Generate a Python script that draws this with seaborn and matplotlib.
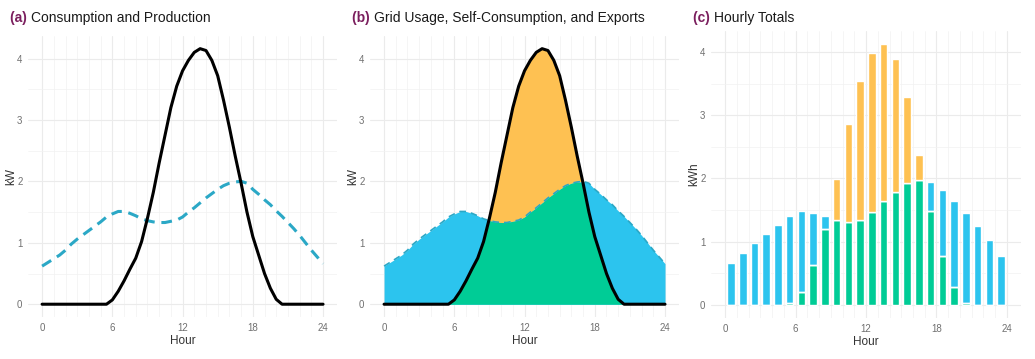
import numpy as np
import pandas as pd
import matplotlib
matplotlib.use("Agg")
import matplotlib.pyplot as plt
import seaborn as sns

# half-hourly profile (kW)
hours = [h / 2 for h in range(49)]
consumption = [0.62, 0.68, 0.74, 0.80, 0.88, 0.98, 1.06, 1.13, 1.20, 1.27,
               1.34, 1.42, 1.47, 1.51, 1.51, 1.48, 1.44, 1.39, 1.36, 1.34,
               1.33, 1.33, 1.35, 1.37, 1.42, 1.50, 1.57, 1.65, 1.73, 1.80,
               1.87, 1.93, 1.97, 1.99, 2.00, 1.97, 1.87, 1.79, 1.70, 1.62,
               1.52, 1.43, 1.33, 1.23, 1.12, 1.00, 0.88, 0.77, 0.66]
production = [0, 0, 0, 0, 0, 0, 0, 0, 0, 0,
              0, 0, 0.07, 0.21, 0.38, 0.57, 0.75, 1.02, 1.40, 1.82,
              2.30, 2.75, 3.20, 3.55, 3.80, 3.97, 4.10, 4.16, 4.13, 3.97,
              3.72, 3.32, 2.88, 2.41, 1.97, 1.50, 1.10, 0.80, 0.50, 0.26,
              0.08, 0, 0, 0, 0, 0, 0, 0, 0]

# hourly totals (kWh)
bar_hours = list(range(24))
cons_kwh = [0.66, 0.83, 0.98, 1.12, 1.27, 1.40, 1.48, 1.45, 1.40, 1.35, 1.31, 1.35,
            1.47, 1.65, 1.79, 1.93, 1.97, 1.94, 1.82, 1.64, 1.46, 1.25, 1.03, 0.78]
prod_kwh = [0, 0, 0, 0, 0, 0.03, 0.21, 0.64, 1.20, 1.99, 2.86, 3.54,
            3.98, 4.12, 3.89, 3.29, 2.37, 1.49, 0.78, 0.28, 0.03, 0, 0, 0]

titles = [("(a)", "Consumption and Production"),
          ("(b)", "Grid Usage, Self-Consumption, and Exports"),
          ("(c)", "Hourly Totals")]

BLUE = "#2CC4EE"
GREEN = "#00CC96"
ORANGE = "#FEC152"
DASH = "#2BA8C6"

sns.set_theme(style="white")
plt.rcParams["font.family"] = ["Liberation Sans", "DejaVu Sans"]

df = pd.DataFrame({"hour": hours, "consumption": consumption, "production": production})
df["self"] = np.minimum(df.consumption, df.production)

hdf = pd.DataFrame({"hour": bar_hours, "cons": cons_kwh, "prod": prod_kwh})
hdf["self"] = np.minimum(hdf.cons, hdf["prod"])
hdf["grid"] = hdf.cons - hdf["self"]
hdf["export"] = hdf["prod"] - hdf["self"]

fig = plt.figure(figsize=(10.35, 3.59), dpi=100)
axes = [fig.add_axes([0.0271, 0.117, 0.2986, 0.783]),
        fig.add_axes([0.3575, 0.117, 0.2986, 0.783]),
        fig.add_axes([0.687, 0.114, 0.2995, 0.799])]


def style_axis(ax, ymax, ylabel):
    ax.set_xlim(-1.2, 25.2)
    ax.set_ylim(-0.05 * ymax, ymax * 1.05)
    ax.set_xticks([0, 6, 12, 18, 24])
    ax.set_xticks(range(25), minor=True)
    ax.set_yticks([0, 1, 2, 3, 4])
    ax.set_yticks(np.arange(0.5, 4.5, 1), minor=True)
    ax.grid(which="major", color="#EBEBEB", linewidth=0.8)
    ax.grid(which="minor", color="#F2F2F2", linewidth=0.5)
    ax.set_axisbelow(True)
    for s in ax.spines.values():
        s.set_visible(False)
    ax.tick_params(which="both", length=0, labelsize=7, colors="#707070", pad=4)
    ax.set_xlabel("Hour", fontsize=8.5, color="#333333", labelpad=2)
    ax.set_ylabel(ylabel, fontsize=8.5, color="#333333", labelpad=0)


# (a) lines
ax = axes[0]
sns.lineplot(data=df, x="hour", y="consumption", ax=ax, color=DASH, linewidth=2.2,
             linestyle=(0, (3.5, 2.2)))
sns.lineplot(data=df, x="hour", y="production", ax=ax, color="black", linewidth=2.2)
style_axis(ax, max(production), "kW")

# (b) filled areas
ax = axes[1]
ax.fill_between(df.hour, 0, df.consumption, color=BLUE, linewidth=0)
ax.fill_between(df.hour, df.consumption, df.production,
                where=df.production >= df.consumption, interpolate=True,
                color=ORANGE, linewidth=0)
ax.fill_between(df.hour, 0, df["self"], color=GREEN, linewidth=0)
sns.lineplot(data=df, x="hour", y="consumption", ax=ax, color=DASH, linewidth=1.2,
             linestyle=(0, (4, 3)))
sns.lineplot(data=df, x="hour", y="production", ax=ax, color="black", linewidth=2.2)
style_axis(ax, max(production), "kW")

# (c) stacked bars
ax = axes[2]
x = hdf.hour + 0.5
ax.bar(x, hdf["self"], width=0.64, color=GREEN, edgecolor="white", linewidth=1)
ax.bar(x, hdf.grid, bottom=hdf["self"], width=0.64, color=BLUE, edgecolor="white", linewidth=1)
ax.bar(x, hdf.export, bottom=hdf["self"], width=0.64, color=ORANGE, edgecolor="white", linewidth=1)
style_axis(ax, max(prod_kwh), "kWh")

# titles at plot level
for ax, (tag, text), xpos in zip(axes, titles, [10, 352, 693]):
    t = fig.text(xpos / 1035, 1 - 18 / 359, tag + " ", fontsize=10, fontweight="bold",
                 color="#7B1F5E", va="center", ha="left")
    fig.canvas.draw()
    bb = t.get_window_extent()
    fig.text(bb.x1 / fig.bbox.width, 1 - 18 / 359, text, fontsize=10, color="#1A1A1A",
             va="center", ha="left")

fig.savefig("out.png", dpi=100)
